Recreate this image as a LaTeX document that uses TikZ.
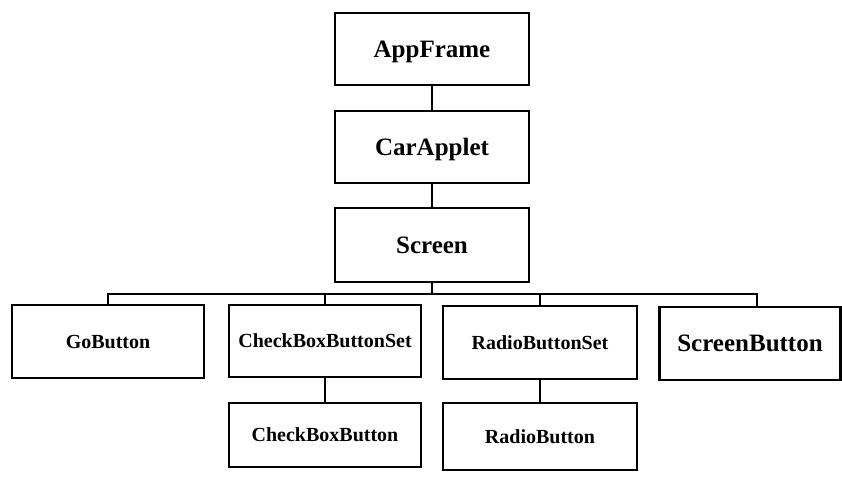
\documentclass[tikz,border=0pt]{standalone}
\usepackage{fontspec}
\setmainfont{Liberation Serif}
\begin{document}
\begin{tikzpicture}[x=1pt,y=-1pt,
  line width=2.2pt,
  cls/.style={draw, rectangle, inner sep=0pt, text depth=0pt, font=\bfseries\fontsize{20}{20}\selectfont},
  bigcls/.style={cls, font=\bfseries\fontsize{25}{25}\selectfont},
  link/.style={line width=2.2pt}]
\useasboundingbox (0,0) rectangle (842,476);

% top chain
\node[bigcls, minimum width=194pt, minimum height=72pt] (app) at (432,49) {AppFrame};
\node[bigcls, minimum width=194pt, minimum height=72pt] (car) at (432,147) {CarApplet};
\node[bigcls, minimum width=194pt, minimum height=74pt] (scr) at (432,245) {Screen};

% second level
\node[cls, minimum width=192pt, minimum height=73pt] (go) at (108,341.5) {GoButton};
\node[cls, minimum width=192pt, minimum height=72pt] (cbs) at (325,341) {CheckBoxButtonSet};
\node[cls, minimum width=194pt, minimum height=73pt] (rbs) at (540,342.5) {RadioButtonSet};
\node[bigcls, minimum width=181pt, minimum height=73pt] (sb) at (750,343.5) {ScreenButton};

% third level
\node[cls, minimum width=192pt, minimum height=64pt] (cb) at (325,435) {CheckBoxButton};
\node[cls, minimum width=194pt, minimum height=67pt] (rb) at (540,436.5) {RadioButton};

% connectors
\coordinate (bus) at (432,294);
\draw[link] (app.south) -- (car.north);
\draw[link] (car.south) -- (scr.north);
\draw[link] (scr.south) -- (bus);
\draw[link] (go.north) |- (bus) -| ([xshift=7pt]sb.north);
\draw[link] (cbs.north) -- (cbs.north |- bus);
\draw[link] (rbs.north) -- (rbs.north |- bus);
\draw[link] (cbs.south) -- (cb.north);
\draw[link] (rbs.south) -- (rb.north);
\end{tikzpicture}
\end{document}
